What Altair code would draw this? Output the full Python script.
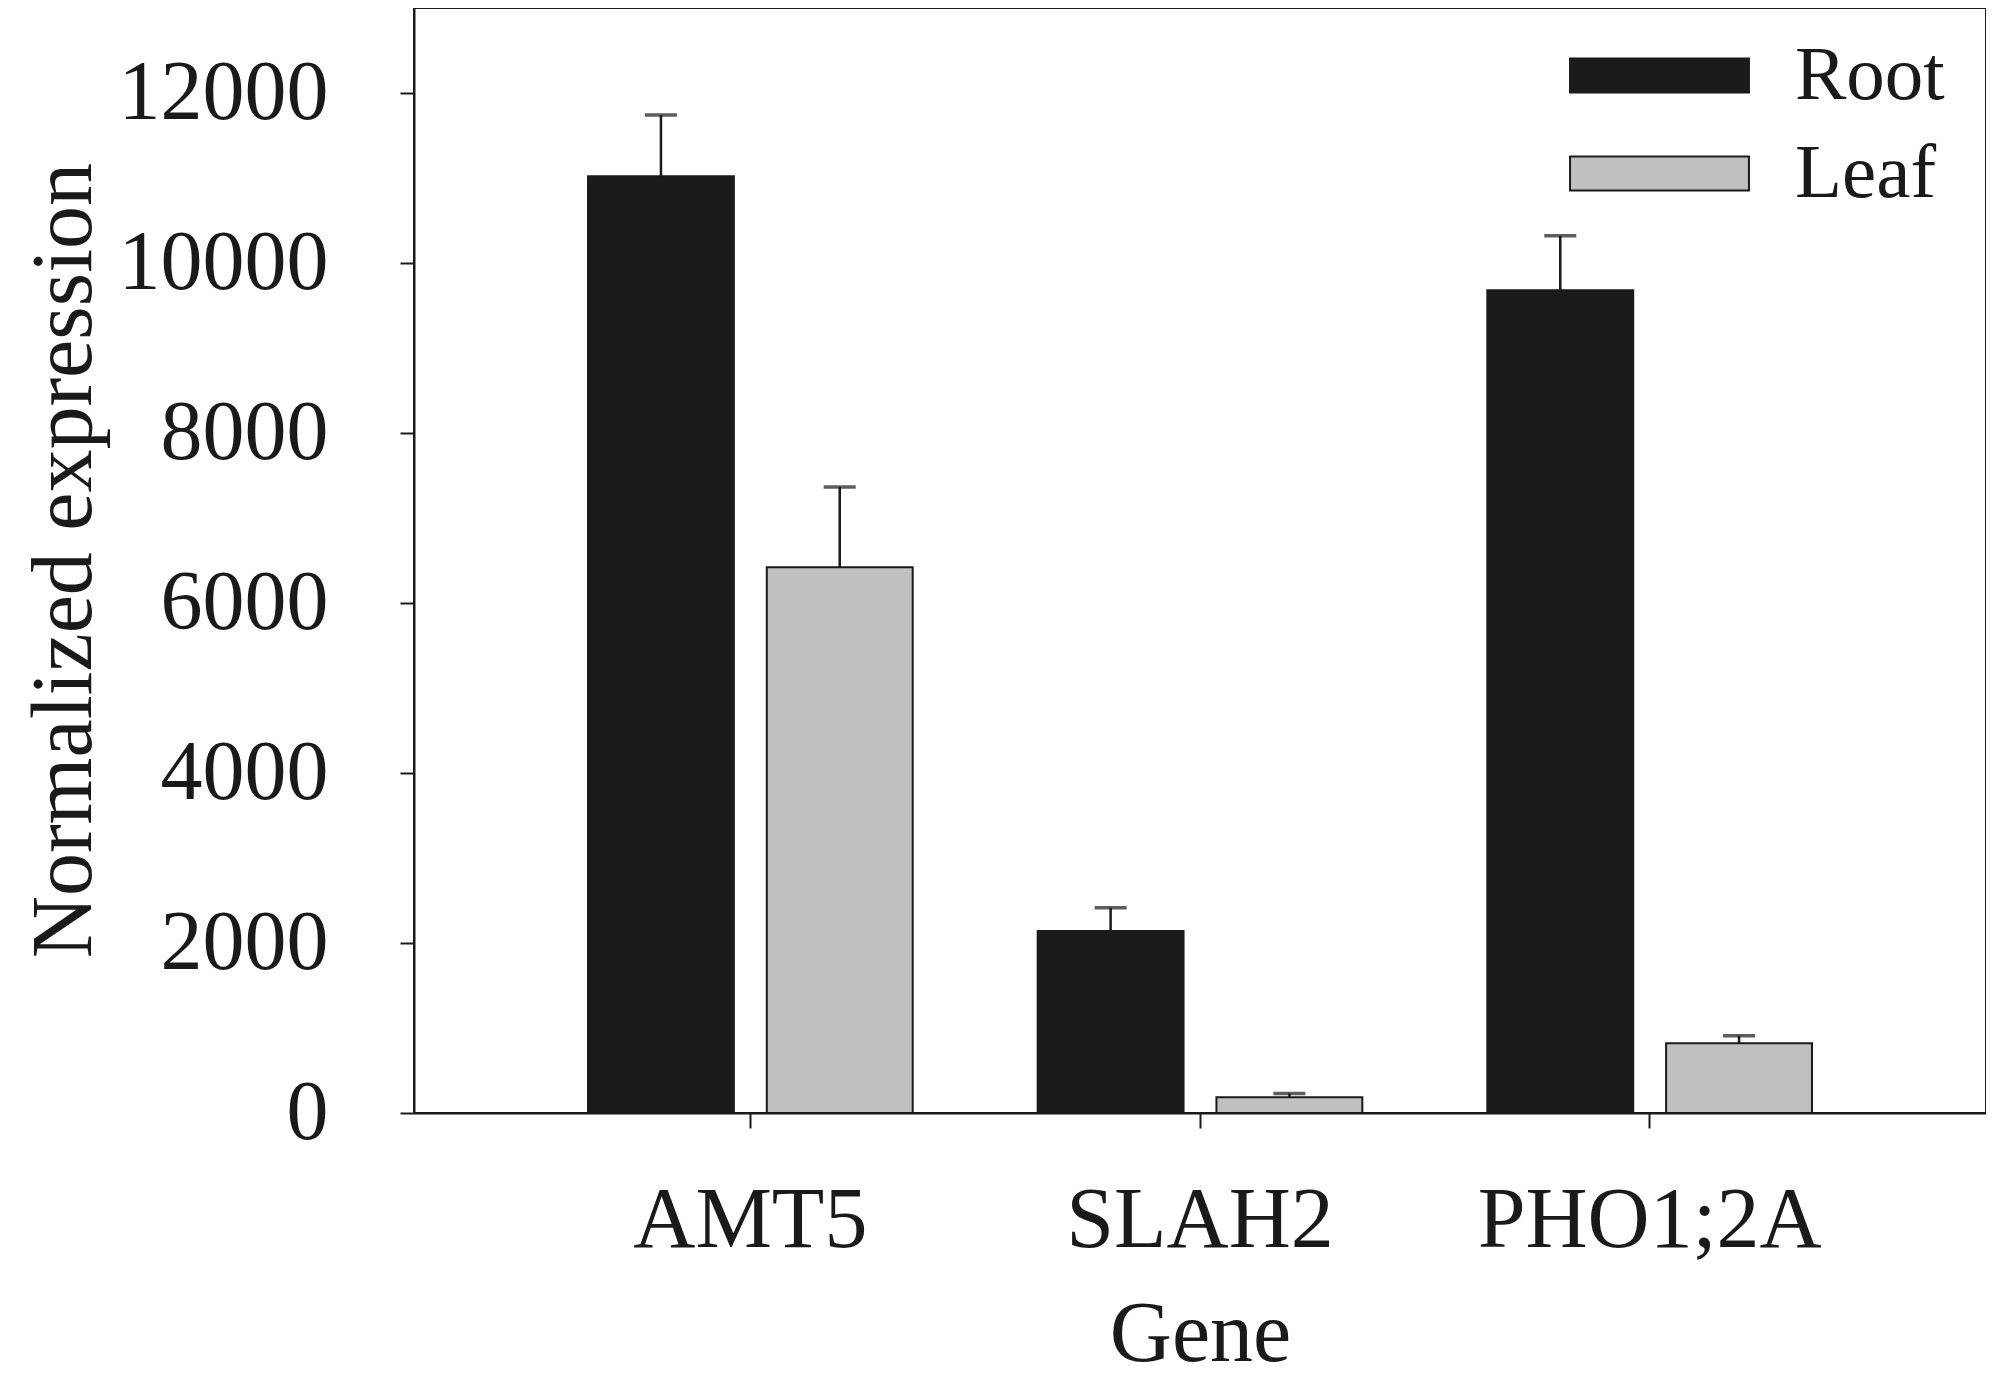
import altair as alt
import pandas as pd

genes = ["AMT5", "SLAH2", "PHO1;2A"]
tissues = ["Root", "Leaf"]
root_mean = [11020, 2140, 9680]
root_err = [720, 275, 640]
leaf_mean = [6420, 185, 820]
leaf_err = [945, 45, 90]
y_ticks = [0, 2000, 4000, 6000, 8000, 10000, 12000]

rows = []
for i, g in enumerate(genes):
    rows.append({"gene": g, "tissue": "Root", "mean": root_mean[i], "err": root_err[i]})
    rows.append({"gene": g, "tissue": "Leaf", "mean": leaf_mean[i], "err": leaf_err[i]})
df = pd.DataFrame(rows)

FONT = "Liberation Serif"
INK = "#1a1a1a"

x_enc = alt.X(
    "gene:N",
    sort=genes,
    scale=alt.Scale(paddingInner=0.278, paddingOuter=0.387),
    axis=alt.Axis(
        title="Gene",
        titleFont=FONT, titleFontSize=86, titleFontWeight="normal", titleColor=INK,
        titlePadding=29,
        labelFont=FONT, labelFontSize=86, labelColor=INK, labelAngle=0, labelPadding=50,
        labelLimit=0,
        tickSize=15, tickWidth=2, tickColor=INK,
        domainColor=INK, domainWidth=2,
    ),
)
xo_enc = alt.XOffset("tissue:N", sort=tissues,
                     scale=alt.Scale(domain=tissues, paddingInner=0.184, paddingOuter=0))

y_scale = alt.Scale(domain=[0, 13000], nice=False)

base = alt.Chart(df).transform_calculate(upper="datum.mean + datum.err")

bars = base.mark_bar(stroke=INK, strokeWidth=2).encode(
    x=x_enc,
    xOffset=xo_enc,
    y=alt.Y(
        "mean:Q",
        scale=y_scale,
        axis=alt.Axis(
            title="Normalized expression",
            titleFont=FONT, titleFontSize=86, titleFontWeight="normal", titleColor=INK,
            titleX=-306, titleY=552,
            values=y_ticks, format="d",
            labelFont=FONT, labelFontSize=84, labelColor=INK, labelPadding=72,
            labelLimit=0,
            tickSize=14, tickWidth=2, tickColor=INK,
            domainColor=INK, domainWidth=2, grid=False,
        ),
    ),
    color=alt.Color(
        "tissue:N",
        sort=tissues,
        scale=alt.Scale(domain=tissues, range=["#1b1b1b", "#c0c0c0"]),
        legend=alt.Legend(
            title=None,
            orient="none",
            legendX=1207,
            legendY=29,
            padding=0,
            symbolType="M-10,-1.9L10,-1.9L10,1.9L-10,1.9Z",
            symbolSize=320,
            symbolStrokeColor=INK,
            symbolStrokeWidth=2,
            symbolOffset=0,
            labelFont=FONT,
            labelFontSize=77,
            labelColor=INK,
            labelOffset=97,
            labelLimit=0,
            rowPadding=20,
        ),
    ),
)

rules = base.mark_rule(color=INK, strokeWidth=2.5).encode(
    x=x_enc,
    xOffset=xo_enc,
    y=alt.Y("mean:Q", scale=y_scale),
    y2="upper:Q",
)

caps = base.mark_tick(color=INK, thickness=3.5, size=32).encode(
    x=x_enc,
    xOffset=xo_enc,
    y=alt.Y("upper:Q", scale=y_scale),
)

chart = (
    alt.layer(bars, rules, caps)
    .properties(
        width=1572,
        height=1105,
        autosize=alt.AutoSizeParams(type="none"),
        padding={"left": 406, "top": 0, "right": 0, "bottom": 266},
        background="white",
    )
    .configure_view(stroke=INK, strokeWidth=2)
)

chart.save("out.html", embed_options={"renderer": "svg", "actions": False})
